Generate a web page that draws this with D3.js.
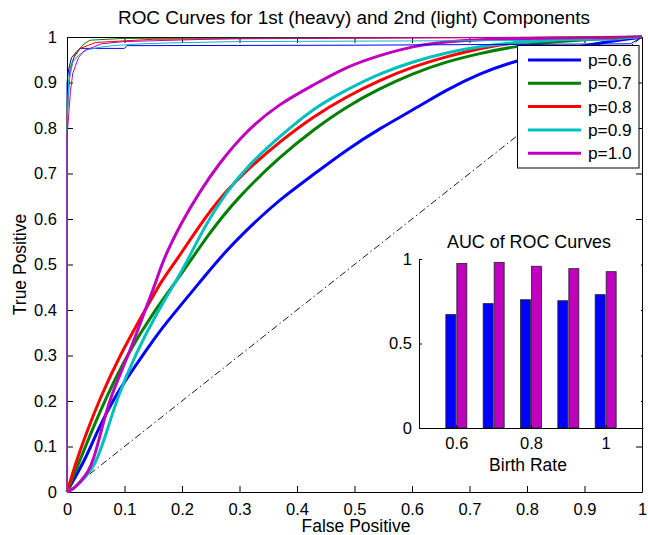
<!DOCTYPE html>
<html><head><meta charset="utf-8">
<script src="https://cdn.jsdelivr.net/npm/d3@7"></script>
<style>
html,body{margin:0;padding:0;background:#fff;}
svg text{font-family:"Liberation Sans",Arial,Helvetica,sans-serif;fill:#000;}
</style></head>
<body>
<svg id="chart" width="648" height="535"></svg>
<script>
// ---------------- data ----------------
const seriesNames = ["p=0.6", "p=0.7", "p=0.8", "p=0.9", "p=1.0"];
// heavy curves (1st component): [FP, TP]
const heavy06 = [[0,0],[0.012,0.028],[0.031,0.07],[0.055,0.14],[0.08,0.202],[0.105,0.252],[0.132,0.301],[0.16,0.352],[0.191,0.40],[0.234,0.466],[0.275,0.528],[0.318,0.583],[0.37,0.643],[0.428,0.697],[0.486,0.752],[0.544,0.799],[0.602,0.840],[0.66,0.884],[0.718,0.920],[0.776,0.946],[0.85,0.970],[0.93,0.988],[1,1]];
const heavy07 = [[0,0],[0.008,0.025],[0.0226,0.07],[0.045,0.14],[0.066,0.202],[0.104,0.301],[0.15,0.395],[0.197,0.475],[0.245,0.565],[0.295,0.645],[0.37,0.737],[0.428,0.796],[0.486,0.847],[0.544,0.887],[0.602,0.92],[0.66,0.946],[0.718,0.964],[0.776,0.979],[0.85,0.99],[0.93,0.997],[1,1]];
const heavy08 = [[0,0],[0.006,0.025],[0.0168,0.07],[0.036,0.137],[0.056,0.202],[0.092,0.301],[0.136,0.40],[0.165,0.466],[0.191,0.51],[0.23,0.585],[0.272,0.656],[0.32,0.716],[0.37,0.77],[0.428,0.825],[0.486,0.869],[0.544,0.905],[0.602,0.935],[0.66,0.957],[0.718,0.975],[0.776,0.988],[0.85,0.995],[1,1]];
const heavy09 = [[0,0],[0.015,0.01],[0.03,0.03],[0.043,0.05],[0.052,0.07],[0.07,0.135],[0.086,0.202],[0.118,0.301],[0.159,0.40],[0.191,0.466],[0.21,0.51],[0.24,0.585],[0.275,0.656],[0.32,0.725],[0.37,0.781],[0.428,0.843],[0.486,0.884],[0.544,0.92],[0.602,0.946],[0.66,0.966],[0.718,0.98],[0.8,0.99],[0.9,0.997],[1,1]];
const heavy10 = [[0,0],[0.01,0.005],[0.025,0.025],[0.037,0.045],[0.046,0.07],[0.06,0.135],[0.073,0.202],[0.107,0.301],[0.136,0.40],[0.156,0.466],[0.167,0.51],[0.2,0.595],[0.231,0.66],[0.263,0.72],[0.3125,0.795],[0.37,0.854],[0.428,0.894],[0.486,0.935],[0.544,0.96],[0.602,0.98],[0.66,0.99],[0.75,0.997],[1,1]];
// light curves (2nd component): [FP, TP]
const light06 = [[0,0],[0,0.90],[0.003,0.93],[0.008,0.955],[0.015,0.965],[0.0226,0.975],[0.10,0.975],[0.104,0.981],[0.5,0.982],[0.98,0.985],[1,1]];
const light07 = [[0,0],[0,0.85],[0.005,0.93],[0.015,0.965],[0.03,0.985],[0.04,0.993],[0.1,0.997],[1,1]];
const light08 = [[0,0],[0,0.82],[0.005,0.92],[0.012,0.955],[0.023,0.975],[0.05,0.988],[0.15,0.995],[0.6,0.998],[1,1]];
const light09 = [[0,0],[0,0.80],[0.003,0.9],[0.01,0.945],[0.02,0.96],[0.035,0.972],[0.06,0.978],[0.08,0.981],[0.13,0.985],[0.18,0.987],[0.3,0.99],[0.95,0.993],[1,1]];
const light10 = [[0,0],[0,0.78],[0.003,0.83],[0.006,0.88],[0.01,0.92],[0.02,0.955],[0.03,0.97],[0.06,0.985],[0.1,0.99],[0.3,0.997],[1,1]];
const xTicks = [0,0.1,0.2,0.3,0.4,0.5,0.6,0.7,0.8,0.9,1];
const yTicks = [0,0.1,0.2,0.3,0.4,0.5,0.6,0.7,0.8,0.9,1];
// inset bar chart
const birthRates = [0.6, 0.7, 0.8, 0.9, 1.0];
const aucHeavy = [0.671, 0.736, 0.759, 0.753, 0.789];
const aucLight = [0.974, 0.980, 0.957, 0.943, 0.925];
const insetXTicks = [0.6, 0.8, 1];
const insetYTicks = [0, 0.5, 1];

// ---------------- drawing ----------------
const colors = ["#0000ff", "#008000", "#ff0000", "#00bfbf", "#bf00bf"];
const heavy = [heavy06, heavy07, heavy08, heavy09, heavy10];
const light = [light06, light07, light08, light09, light10];
const svg = d3.select("#chart");
const M = {l:67, r:642, t:37, b:492};
const x = d3.scaleLinear().domain([0,1]).range([M.l, M.r]);
const y = d3.scaleLinear().domain([0,1]).range([M.b, M.t]);
const fmt = d => d === 0 ? "0" : d === 1 ? "1" : d3.format(".1f")(d);
const FS = 16.5, LS = 17.5;

// title & labels
svg.append("text").attr("x", 354).attr("y", 24).attr("text-anchor","middle")
  .attr("font-size", 18).attr("textLength", 472).attr("lengthAdjust","spacingAndGlyphs")
  .text("ROC Curves for 1st (heavy) and 2nd (light) Components");
svg.append("text").attr("x", 356).attr("y", 532).attr("text-anchor","middle")
  .attr("font-size", LS).text("False Positive");
svg.append("text").attr("transform", `translate(26,${(M.t+M.b)/2}) rotate(-90)`).attr("text-anchor","middle")
  .attr("font-size", LS).text("True Positive");

// axes (box + inward ticks, mirrored)
const axG = svg.append("g");
const tl = 6;
const xb = d3.axisBottom(x).tickValues(xTicks).tickFormat(fmt).tickSizeInner(-tl).tickSizeOuter(0).tickPadding(11);
const yl = d3.axisLeft(y).tickValues(yTicks).tickFormat(fmt).tickSizeInner(-tl).tickSizeOuter(0).tickPadding(10);
const xt = d3.axisTop(x).tickValues(xTicks).tickFormat("").tickSizeInner(-tl).tickSizeOuter(0);
const yr = d3.axisRight(y).tickValues(yTicks).tickFormat("").tickSizeInner(-tl).tickSizeOuter(0);
axG.append("g").attr("transform", `translate(0,${M.b})`).call(xb);
axG.append("g").attr("transform", `translate(${M.l},0)`).call(yl);
axG.append("g").attr("transform", `translate(0,${M.t})`).call(xt);
axG.append("g").attr("transform", `translate(${M.r},0)`).call(yr);
axG.selectAll(".domain").attr("stroke","#000").attr("stroke-width",1);
axG.selectAll(".tick line").attr("stroke","#000");
axG.selectAll("text").attr("font-size", FS).attr("fill","#000")
   .style("font-family", '"Liberation Sans",Arial,sans-serif');

// diagonal chance line
svg.append("line").attr("x1", x(0)).attr("y1", y(0)).attr("x2", x(1)).attr("y2", y(1))
  .attr("stroke","#000").attr("stroke-width",0.9).attr("stroke-dasharray","7,3,1.5,3");

// curves
const line = d3.line().x(d => x(d[0])).y(d => y(d[1]));
const smooth = d3.line().x(d => x(d[0])).y(d => y(d[1])).curve(d3.curveBasis);
heavy.forEach((s,i) => {
  svg.append("path").attr("d", smooth(s)).attr("fill","none").attr("stroke", colors[i])
    .attr("stroke-width", 3).attr("stroke-linejoin","round");
});
light.forEach((s,i) => {
  svg.append("path").attr("d", line(s)).attr("fill","none").attr("stroke", colors[i])
    .attr("stroke-width", 1);
});

// legend
const lg = svg.append("g");
lg.append("rect").attr("x", 517.5).attr("y", 45.5).attr("width", 121.5).attr("height", 122.5)
  .attr("fill","#fff").attr("stroke","#000").attr("stroke-width",1);
seriesNames.forEach((n,i) => {
  const yy = 60 + i*23.3;
  lg.append("line").attr("x1",528).attr("x2",581).attr("y1",yy).attr("y2",yy)
    .attr("stroke", colors[i]).attr("stroke-width",3);
  lg.append("text").attr("x",588).attr("y",yy+6).attr("font-size",17.3).text(n);
});

// inset bar chart
const I = {l:419, r:643, t:259, b:428};
const ix = d3.scaleLinear().domain([0.5,1.1]).range([I.l, I.r]);
const iy = d3.scaleLinear().domain([0,1]).range([I.b, I.t]);
const ig = svg.append("g");
ig.append("rect").attr("x", I.l).attr("y", I.t).attr("width", I.r - I.l - 2).attr("height", I.b - I.t).attr("fill","#fff");
ig.append("text").attr("x", 529).attr("y", 248).attr("text-anchor","middle").attr("font-size",17.9).text("AUC of ROC Curves");
ig.append("text").attr("x", 528).attr("y", 471).attr("text-anchor","middle").attr("font-size",LS).text("Birth Rate");
const bw = 10;
birthRates.forEach((b,i) => {
  ig.append("rect").attr("x", ix(b) - bw - 0.5).attr("y", iy(aucHeavy[i])).attr("width", bw)
    .attr("height", iy(0) - iy(aucHeavy[i])).attr("fill","#0000ff").attr("stroke","#222").attr("stroke-width",0.8);
  ig.append("rect").attr("x", ix(b) + 0.5).attr("y", iy(aucLight[i])).attr("width", bw)
    .attr("height", iy(0) - iy(aucLight[i])).attr("fill","#bf00bf").attr("stroke","#222").attr("stroke-width",0.8);
});
const iax = ig.append("g");
iax.append("g").attr("transform", `translate(0,${I.b})`)
  .call(d3.axisBottom(ix).tickValues(insetXTicks).tickFormat(d => d===1?"1":d3.format(".1f")(d)).tickSizeInner(-3).tickSizeOuter(0).tickPadding(9));
iax.append("g").attr("transform", `translate(${I.l},0)`)
  .call(d3.axisLeft(iy).tickValues(insetYTicks).tickFormat(d => d===0?"0":d===1?"1":d3.format(".1f")(d)).tickSizeInner(-3).tickSizeOuter(0).tickPadding(7));
iax.selectAll(".domain").attr("stroke","#000");
iax.selectAll(".tick line").attr("stroke","#000");
iax.selectAll("text").attr("font-size", FS).attr("fill","#000")
   .style("font-family", '"Liberation Sans",Arial,sans-serif');
</script>
</body></html>
